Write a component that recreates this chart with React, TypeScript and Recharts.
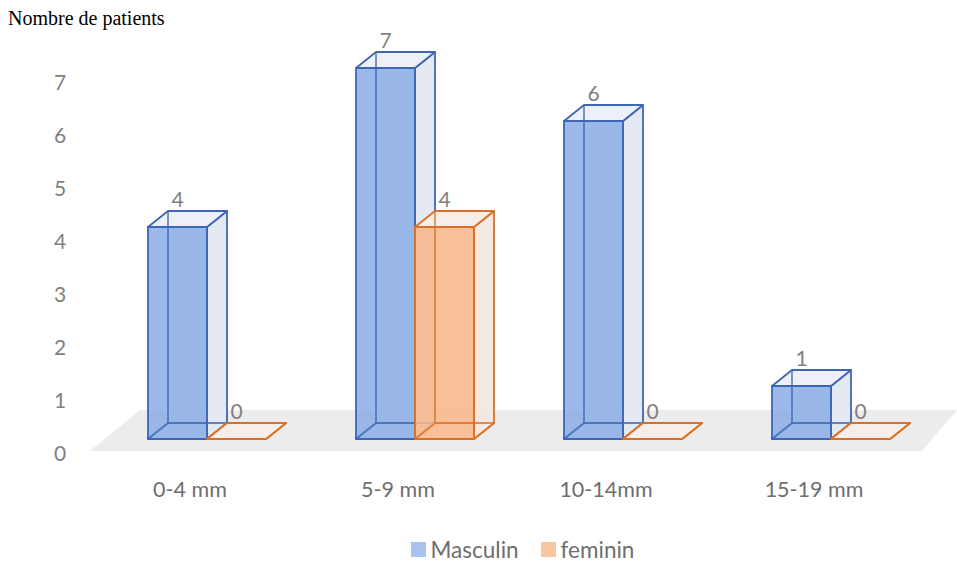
import React from 'react'
import { BarChart, Bar, XAxis, YAxis, Legend, LabelList, ReferenceArea } from 'recharts'

const categories = ['0-4 mm', '5-9 mm', '10-14mm', '15-19 mm']
const masculin = [4, 7, 6, 1]
const feminin = [0, 4, 0, 0]
const yTicks = [0, 1, 2, 3, 4, 5, 6, 7]

const data = categories.map((name, i) => ({ name, masculin: masculin[i], feminin: feminin[i] }))

// fake 3d: front face sits a bit above the axis zero, back face pushed up/right
const LIFT = 14
const DX = 20
const DY = 16

const blue = { stroke: '#3F66B3', front: '#8BADE6', side: '#E3E8F1', top: '#EDF0F6', legend: '#A9C3EE' }
const orange = { stroke: '#DC6F26', front: '#F8B68A', side: '#F4E8E2', top: '#F6EEE9', legend: '#F9C79F' }

const FONT = 'Lato, "Open Sans", sans-serif'
const GREY = '#7F7F7F'

const pts = (p: number[][]) => p.map((q) => q.join(',')).join(' ')

function makeBox(c: typeof blue) {
  return (props: any) => {
    const { x, y, width, height } = props
    const x0 = x
    const x1 = x + width
    const yt = y - LIFT
    const yb = y + height - LIFT
    const bx0 = x0 + DX
    const bx1 = x1 + DX
    const byt = yt - DY
    const byb = yb - DY
    const sw = 1.8
    return (
      <g strokeLinejoin="round">
        <polygon points={pts([[bx0, byt], [bx1, byt], [bx1, byb], [bx0, byb]])} fill={c.side} fillOpacity={0.8} stroke="none" />
        <polygon points={pts([[x0, yb], [x1, yb], [bx1, byb], [bx0, byb]])} fill={c.top} fillOpacity={0.85} stroke={c.stroke} strokeWidth={sw} />
        <polygon points={pts([[x1, yt], [bx1, byt], [bx1, byb], [x1, yb]])} fill={c.side} fillOpacity={0.85} stroke={c.stroke} strokeWidth={sw} />
        <polygon points={pts([[x0, yt], [x1, yt], [bx1, byt], [bx0, byt]])} fill={c.top} stroke={c.stroke} strokeWidth={sw} />
        <rect x={x0} y={yt} width={width} height={height} fill={c.front} fillOpacity={0.85} stroke={c.stroke} strokeWidth={sw} />
        {height > 0 && (
          <g stroke={c.stroke} strokeWidth={sw} strokeOpacity={0.75}>
            <line x1={bx0} y1={byt} x2={bx0} y2={byb} />
            <line x1={bx0} y1={byb} x2={bx1} y2={byb} />
            <line x1={x0} y1={yb} x2={bx0} y2={byb} />
          </g>
        )}
      </g>
    )
  }
}

const MasculinBox = makeBox(blue)
const FemininBox = makeBox(orange)

function ValueLabel(props: any) {
  const vb = props.viewBox ?? props
  const { x, y, width } = vb
  return (
    <text x={x + width / 2} y={y - LIFT - DY - 4} textAnchor="middle" fill={GREY} fontFamily={FONT} fontSize={21}>
      {props.value}
    </text>
  )
}

function Floor(props: any) {
  const { x, y, width, height } = props
  const base = y + height
  return (
    <polygon
      points={pts([
        [x - 13, base - 2],
        [x + width - 13, base - 2],
        [x + width + 22, base - 43],
        [x + 37, base - 43],
      ])}
      fill="#ECECEC"
    />
  )
}

function YTick(props: any) {
  const { x, y, payload } = props
  return (
    <text x={x - 35} y={y} dy={8} textAnchor="middle" fill={GREY} fontFamily={FONT} fontSize={21}>
      {payload.value}
    </text>
  )
}

function XTick(props: any) {
  const { x, y, payload } = props
  return (
    <text x={x - 17} y={y} dy={36} textAnchor="middle" fill="#6E6E6E" fontFamily={FONT} fontSize={21.5}>
      {payload.value}
    </text>
  )
}

function LegendContent() {
  const items = [
    { label: 'Masculin', c: blue },
    { label: 'feminin', c: orange },
  ]
  return (
    <div style={{ display: 'flex', justifyContent: 'center', gap: 22, paddingLeft: 88, fontFamily: FONT, fontSize: 22.5, color: '#6E6E6E' }}>
      {items.map((it) => (
        <div key={it.label} style={{ display: 'flex', alignItems: 'center', gap: 5 }}>
          <div style={{ width: 15, height: 15, background: it.c.legend }} />
          <span>{it.label}</span>
        </div>
      ))}
    </div>
  )
}

export default function App() {
  return (
    <div style={{ position: 'absolute', left: 0, top: 0, width: 957, height: 565, background: '#fff' }}>
      <div style={{ position: 'absolute', left: 8, top: 7, fontFamily: '"Liberation Serif", serif', fontSize: 20, color: '#000' }}>
        Nombre de patients
      </div>
      <BarChart
        width={957}
        height={565}
        data={data}
        margin={{ top: 82, right: 22, bottom: 82, left: 43 }}
        barGap={0}
      >
        <ReferenceArea x1={categories[0]} x2={categories[categories.length - 1]} y1={0} y2={1} shape={<Floor />} ifOverflow="visible" />
        <XAxis dataKey="name" axisLine={false} tickLine={false} height={30} tick={<XTick />} interval={0} />
        <YAxis domain={[0, 7]} ticks={yTicks} axisLine={false} tickLine={false} width={60} tick={<YTick />} />
        <Legend verticalAlign="middle" align="center" wrapperStyle={{ top: 536, left: 0, width: 957 }} content={<LegendContent />} />
        <Bar dataKey="masculin" name="Masculin" barSize={59} shape={<MasculinBox />} isAnimationActive={false}>
          <LabelList dataKey="masculin" content={<ValueLabel />} />
        </Bar>
        <Bar dataKey="feminin" name="feminin" barSize={59} shape={<FemininBox />} isAnimationActive={false}>
          <LabelList dataKey="feminin" content={<ValueLabel />} />
        </Bar>
      </BarChart>
    </div>
  )
}
